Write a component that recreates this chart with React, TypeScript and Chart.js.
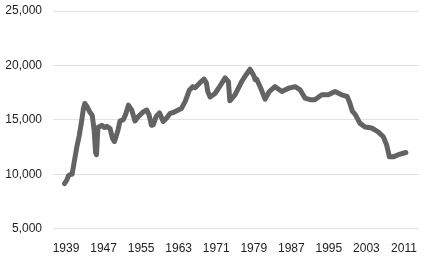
import React, { useEffect, useRef } from "react";
import { Chart, registerables } from "chart.js";

Chart.register(...registerables);

const years: number[] = [
  1938.7, 1939.2, 1939.5, 1940.0, 1940.3, 1940.7, 1941.3, 1941.8, 1942.3, 1942.7,
  1943.0, 1943.5, 1944.1, 1944.6, 1945.0, 1945.3, 1945.5, 1945.8, 1946.6, 1947.2,
  1947.7, 1948.4, 1948.9, 1949.3, 1949.7, 1950.1, 1950.5, 1951.2, 1951.7, 1952.3,
  1953.0, 1953.7, 1954.4, 1955.5, 1956.2, 1956.7, 1957.2, 1957.6, 1958.2, 1958.9,
  1959.7, 1960.4, 1961.2, 1962.0, 1962.9, 1963.6, 1964.4, 1965.3, 1966.0, 1966.5,
  1967.4, 1968.4, 1968.9, 1969.2, 1969.7, 1970.7, 1971.5, 1972.9, 1973.6, 1973.9,
  1975.0, 1976.4, 1977.3, 1978.2, 1978.9, 1979.3, 1979.6, 1980.5, 1981.4, 1982.3,
  1983.5, 1985.0, 1986.4, 1987.8, 1988.9, 1989.9, 1991.0, 1992.0, 1993.5, 1994.9,
  1996.3, 1997.7, 1998.9, 1999.5, 2000.0, 2000.6, 2001.6, 2002.7, 2004.1, 2005.5,
  2006.6, 2007.3, 2007.9, 2008.7, 2009.8, 2011.4,
];

const values: number[] = [
  9150, 9500, 9850, 10000, 10000, 11000, 12500, 13500, 14800, 16000,
  16500, 16200, 15700, 15400, 14000, 12000, 11800, 14300, 14500, 14300,
  14400, 14200, 13300, 13000, 13500, 14100, 14900, 15000, 15500, 16350,
  15900, 14900, 15300, 15750, 15900, 15450, 14500, 14550, 15300, 15650,
  14850, 15150, 15600, 15700, 15900, 16050, 16700, 17750, 18050, 17950,
  18350, 18750, 18400, 17600, 17100, 17400, 17900, 18850, 18500, 16750,
  17300, 18500, 19100, 19650, 19150, 18700, 18750, 17900, 16900, 17600,
  18050, 17600, 17900, 18050, 17750, 17000, 16850, 16850, 17300, 17300,
  17600, 17300, 17150, 16500, 15800, 15500, 14700, 14350, 14250, 13900,
  13450, 12700, 11600, 11600, 11800, 12000,
];

const xTicks: number[] = [1939, 1947, 1955, 1963, 1971, 1979, 1987, 1995, 2003, 2011];
const yTicks: number[] = [5000, 10000, 15000, 20000, 25000];

export default function App() {
  const ref = useRef<HTMLCanvasElement | null>(null);

  useEffect(() => {
    if (!ref.current) return;
    const chart = new Chart(ref.current, {
      type: "line",
      data: {
        datasets: [
          {
            data: years.map((y, i) => ({ x: y, y: values[i] })),
            borderColor: "#636363",
            borderWidth: 5,
            pointRadius: 0,
            tension: 0,
            borderJoinStyle: "round",
            borderCapStyle: "round",
            fill: false,
          },
        ],
      },
      options: {
        responsive: false,
        animation: false,
        layout: { padding: { left: 0, right: 6, top: 11, bottom: 0 } },
        plugins: { legend: { display: false }, tooltip: { enabled: false } },
        scales: {
          x: {
            type: "linear",
            min: 1936.23,
            max: 2014.2,
            grid: { display: false, drawTicks: false },
            border: { display: false },
            afterBuildTicks: (s: any) => {
              s.ticks = xTicks.map((v) => ({ value: v }));
            },
            afterFit: (s: any) => {
              s.height = 29.3;
              s.paddingLeft = 0;
              s.paddingRight = 0;
            },
            ticks: {
              padding: 13,
              maxRotation: 0,
              autoSkip: false,
              color: "#222222",
              font: { family: "Liberation Sans, Arial, sans-serif", size: 12 },
              callback: (v: any) => String(v),
            },
          },
          y: {
            min: 5000,
            max: 25000,
            grid: { color: "#e3e3e3", lineWidth: 1, drawTicks: false },
            border: { display: false },
            afterBuildTicks: (s: any) => {
              s.ticks = yTicks.map((v) => ({ value: v }));
            },
            afterFit: (s: any) => {
              s.width = 53;
              s.paddingTop = 0;
              s.paddingBottom = 0;
            },
            ticks: {
              padding: 11,
              color: "#222222",
              font: { family: "Liberation Sans, Arial, sans-serif", size: 12 },
              callback: (v: any) => Number(v).toLocaleString("en-US"),
            },
          },
        },
      },
    });
    return () => chart.destroy();
  }, []);

  return (
    <div style={{ position: "fixed", left: 0, top: 0, width: 425, height: 258, background: "#fff" }}>
      <canvas ref={ref} width={425} height={258} />
    </div>
  );
}
